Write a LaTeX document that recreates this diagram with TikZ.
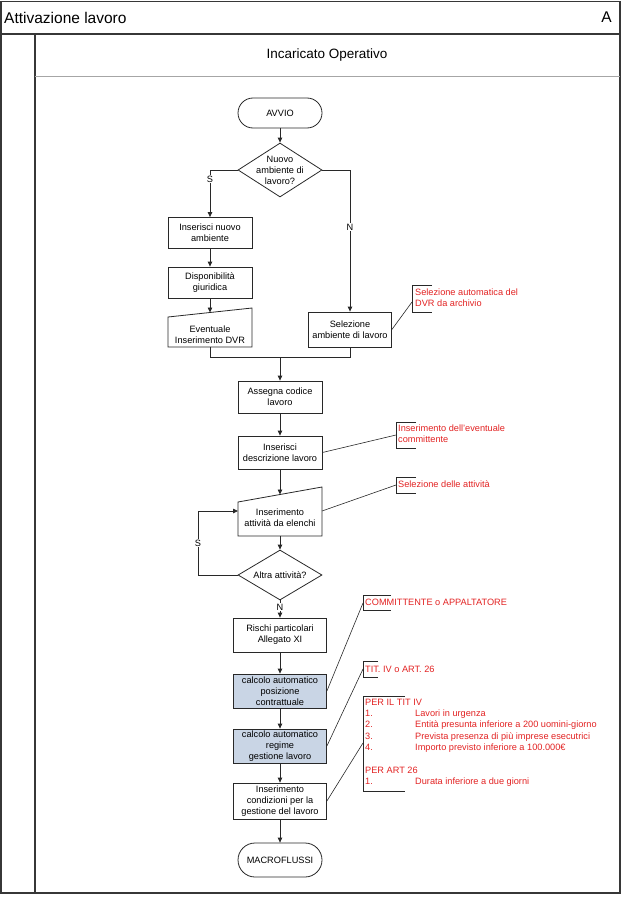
\documentclass[tikz,border=0pt]{standalone}
\usepackage{fontspec}
\setmainfont{Liberation Sans}
\usetikzlibrary{arrows.meta,shapes.geometric}
\definecolor{notered}{RGB}{226,34,34}
\definecolor{calcfill}{RGB}{201,213,229}
\definecolor{framegray}{RGB}{55,55,55}
\definecolor{linegray}{RGB}{40,40,40}
\newcommand\bxf{\fontsize{9.2}{11}\selectfont}
\newcommand\ntf{\fontsize{9.2}{11.4}\selectfont}
\begin{document}
\begin{tikzpicture}[x=1pt,y=-1pt,
 box/.style={draw=linegray, line width=0.8pt, fill=white, minimum width=84pt, align=center, font=\bxf, inner sep=1pt},
 wbox/.style={box, minimum width=93pt},
 calcbox/.style={wbox, fill=calcfill},
 term/.style={box, rounded corners=15pt},
 dia/.style={diamond, draw=linegray, line width=0.8pt, inner sep=0pt, minimum width=84pt},
 txt/.style={align=center, font=\bxf, inner sep=0pt},
 arr/.style={draw=linegray, line width=0.8pt, -{Triangle[length=5pt,width=4.5pt]}},
 conn/.style={draw=linegray, line width=0.8pt},
 lbl/.style={fill=white, font=\bxf, inner sep=1pt},
 note/.style={text=notered, font=\ntf, align=left, inner sep=0pt},
 brk/.style={draw=linegray, line width=0.8pt},
 nline/.style={draw=linegray, line width=0.6pt},
 frame/.style={draw=framegray, line width=1.2pt},
]
\useasboundingbox (0,0) rectangle (623,899);
% frame
\draw[frame] (1,1.5) rectangle (620,893);
\coordinate (tl) at (1,34);
\coordinate (tr) at (620,34);
\draw[frame, line width=1.6pt] (tl) -- (tr);
\coordinate (lt) at (35,34);
\coordinate (lb) at (35,893);
\draw[frame] (lt) -- (lb);
\coordinate (hl) at (35,76.5);
\coordinate (hr) at (620,76.5);
\draw[draw=gray!70, line width=1pt] (hl) -- (hr);
\node[anchor=west, inner sep=0pt, font=\fontsize{15.5}{18}\selectfont] (title) at (4,17.5) {Attivazione lavoro};
\node[anchor=east, inner sep=0pt, font=\fontsize{15.5}{18}\selectfont] (letter) at (612,17.5) {A};
\node[inner sep=0pt, font=\fontsize{13.5}{16}\selectfont] (lane) at (327,55.5) {Incaricato Operativo};

% nodes
\node[term, minimum height=30pt] (avvio) at (280,113) {AVVIO};
\node[dia, minimum height=54pt] (q1) at (280,170) {};
\node[txt] (q1t) at (280,170) {Nuovo\\ambiente di\\lavoro?};
\node[box, minimum height=31pt] (ina) at (210,233) {Inserisci nuovo\\ambiente};
\node[box, minimum height=31pt] (disp) at (210,282.5) {Disponibilità\\giuridica};
\coordinate (ev-tl) at (168,317);
\coordinate (ev-tr) at (252,308);
\coordinate (ev-br) at (252,347);
\coordinate (ev-bl) at (168,347);
\coordinate (ev-top) at (210,312.5);
\coordinate (ev-bot) at (210,347);
\draw[conn] (ev-bl) -- (ev-br) -- (ev-tr) -- (ev-tl) -- cycle;
\node[txt] (ev) at (210,335) {Eventuale\\Inserimento DVR};
\node[box, minimum width=83pt, minimum height=35pt] (sel) at (350,329.5) {Selezione\\ambiente di lavoro};
\coordinate (m) at (280,357);
\node[box, minimum height=32pt] (asc) at (280,397) {Assegna codice\\lavoro};
\node[box, minimum height=33pt] (ides) at (280,452.5) {Inserisci\\descrizione lavoro};
\coordinate (ia-tl) at (238,502);
\coordinate (ia-tr) at (322,487);
\coordinate (ia-br) at (322,536);
\coordinate (ia-bl) at (238,536);
\coordinate (ia-top) at (280,494.5);
\coordinate (ia-bot) at (280,536);
\coordinate (ia-l) at (238,511);
\coordinate (ia-r) at (322,511);
\draw[conn] (ia-bl) -- (ia-br) -- (ia-tr) -- (ia-tl) -- cycle;
\node[txt] (ia) at (280,518) {Inserimento\\attività da elenchi};
\node[dia, minimum height=50pt] (q2) at (280,575) {};
\node[txt] (q2t) at (280,575) {Altra attività?};
\coordinate (lp) at (198,575);
\node[wbox, minimum height=34pt] (ris) at (280,635) {Rischi particolari\\Allegato XI};
\node[calcbox, minimum height=34pt] (cpos) at (280,691) {calcolo automatico\\posizione\\contrattuale};
\node[calcbox, minimum height=34pt] (creg) at (280,746) {calcolo automatico\\regime\\gestione lavoro};
\node[wbox, minimum height=36pt] (icond) at (280,801) {Inserimento\\condizioni per la\\gestione del lavoro};
\node[term, minimum height=34pt, rounded corners=17pt] (macro) at (280,860) {MACROFLUSSI};

% connectors
\draw[arr] (avvio) -- (q1);
\draw[arr] (q1.west) -| (ina.north);
\draw[arr] (ina) -- (disp);
\draw[arr] (disp) -- (ev-top);
\draw[arr] (q1.east) -| (sel.north);
\draw[conn] (ev-bot) |- (m);
\draw[conn] (sel.south) |- (m);
\draw[arr] (m) -- (asc);
\draw[arr] (asc) -- (ides);
\draw[arr] (ides) -- (ia-top);
\draw[arr] (ia-bot) -- (q2.north);
\draw[arr] (q2.west) -- (lp) |- (ia-l);
\draw[arr] (q2) -- (ris);
\draw[arr] (ris) -- (cpos);
\draw[arr] (cpos) -- (creg);
\draw[arr] (creg) -- (icond);
\draw[arr] (icond) -- (macro);

% branch labels
\node[lbl] (s1) at (210,179) {S};
\node[lbl] (n1) at (350,227) {N};
\node[lbl] (s2) at (198,543) {S};
\node[lbl] (n2) at (280,607) {N};

% annotations
\draw[brk] (432,285) -- (412,285) -- (412,312) -- (432,312);
\node[note, anchor=north west] (t1) at (415,288.6) {Selezione automatica del\\DVR da archivio};
\coordinate (b1) at (412,302);
\draw[nline] (sel.east) -- (b1);

\draw[brk] (416,422) -- (396,422) -- (396,448) -- (416,448);
\node[note, anchor=north west] (t2) at (398,424.7) {Inserimento dell'eventuale\\committente};
\coordinate (b2) at (396,435);
\draw[nline] (ides.east) -- (b2);

\draw[brk] (416,477) -- (396,477) -- (396,493) -- (416,493);
\node[note, anchor=base west] (t3) at (398,487.3) {Selezione delle attività};
\coordinate (b3) at (396,485);
\draw[nline] (ia-r) -- (b3);

\draw[brk] (391,595) -- (363,595) -- (363,610) -- (391,610);
\node[note, anchor=base west] (t4) at (365,605.3) {COMMITTENTE o APPALTATORE};
\coordinate (b4) at (363,603);
\draw[nline] (cpos.east) -- (b4);

\draw[brk] (378,661) -- (363,661) -- (363,677) -- (378,677);
\node[note, anchor=base west] (t5) at (365,672.3) {TIT. IV o ART. 26};
\coordinate (b5) at (363,669);
\draw[nline] (creg.east) -- (b5);

\draw[brk] (405,696) -- (363,696) -- (363,791) -- (405,791);
\node[note, anchor=north west] (t6) at (365,698.6) {PER IL TIT IV\\
\makebox[50pt][l]{1.}Lavori in urgenza\\
\makebox[50pt][l]{2.}Entità presunta inferiore a 200 uomini-giorno\\
\makebox[50pt][l]{3.}Prevista presenza di più imprese esecutrici\\
\makebox[50pt][l]{4.}Importo previsto inferiore a 100.000€\\[11.4pt]
PER ART 26\\
\makebox[50pt][l]{1.}Durata inferiore a due giorni};
\coordinate (b6) at (363,743);
\draw[nline] (icond.east) -- (b6);
\end{tikzpicture}
\end{document}
